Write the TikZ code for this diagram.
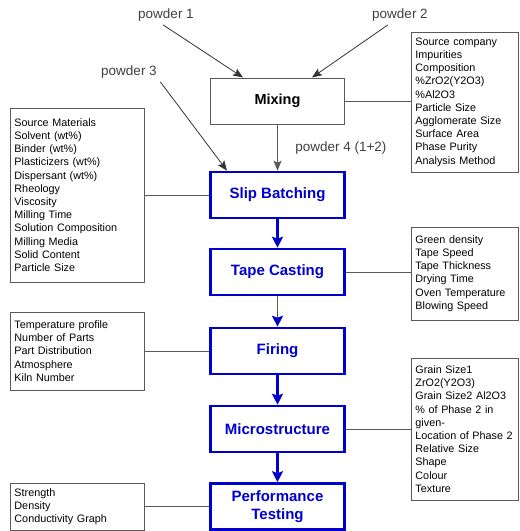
\documentclass[tikz,border=0pt]{standalone}
\usepackage{fontspec}
\setmainfont{Liberation Sans}
\usetikzlibrary{arrows.meta}
\definecolor{procblue}{RGB}{0,0,204}
\definecolor{linegray}{RGB}{90,90,90}

\begin{document}
\begin{tikzpicture}[x=1pt,y=-1pt,
  proc/.style={draw=procblue,line width=2.6pt,text=procblue,minimum width=134pt,minimum height=46pt,align=center,font=\fontsize{15}{18}\selectfont\bfseries},
  mixbox/.style={draw=linegray,line width=1pt,minimum width=134pt,minimum height=46pt,font=\fontsize{14.5}{17}\selectfont\bfseries},
  info/.style={draw=linegray,line width=0.9pt,anchor=west,align=left,inner xsep=4pt,inner ysep=0pt,font=\fontsize{10.8}{13.2}\selectfont},
  leftinfo/.style={info,text width=126pt},
  rightinfo/.style={info,text width=99pt},
  powder/.style={text=black!75,font=\fontsize{13.5}{16}\selectfont},
  tip/.style={-{Stealth[length=10pt,width=8pt,inset=2pt]}},
  bluetip/.style={-{Stealth[length=11pt,width=11pt,inset=2pt,color=procblue]}}]
\useasboundingbox (0,0) rectangle (520,531);

% process chain
\node[mixbox] (mix) at (277.5,101) {Mixing};
\node[proc] (slip) at (277.5,195) {Slip Batching};
\node[proc] (tape) at (277.5,272) {Tape Casting};
\node[proc] (fire) at (277.5,351) {Firing};
\node[proc] (micro) at (277.5,429) {Microstructure};
\node[proc] (perf) at (277.5,506.5) {Performance\\Testing};

% powders
\node[powder] (p1) at (166,15) {powder 1};
\node[powder] (p2) at (400,15) {powder 2};
\node[powder] (p3) at (129,72) {powder 3};

% parameter lists
\node[rightinfo,minimum height=140pt] (mixinfo) at (411,102) {Source company\\Impurities\\Composition\\\%ZrO2(Y2O3)\\\%Al2O3\\Particle Size\\Agglomerate Size\\Surface Area\\Phase Purity\\Analysis Method};
\node[leftinfo,minimum height=174pt] (slipinfo) at (10,195) {Source Materials\\Solvent (wt\%)\\Binder (wt\%)\\Plasticizers (wt\%)\\Dispersant (wt\%)\\Rheology\\Viscosity\\Milling Time\\Solution Composition\\Milling Media\\Solid Content\\Particle Size};
\node[rightinfo,minimum height=93pt] (tapeinfo) at (411,273.5) {Green density\\Tape Speed\\Tape Thickness\\Drying Time\\Oven Temperature\\Blowing Speed};
\node[leftinfo,minimum height=78pt] (fireinfo) at (10,351) {Temperature profile\\Number of Parts\\Part Distribution\\Atmosphere\\Kiln Number};
\node[rightinfo,minimum height=142pt] (microinfo) at (411,429) {Grain Size1\\ZrO2(Y2O3)\\Grain Size2 Al2O3\\\% of Phase 2 in\\given-\\Location of Phase 2\\Relative Size\\Shape\\Colour\\Texture};
\node[leftinfo,minimum height=47pt] (perfinfo) at (10,506.5) {Strength\\Density\\Conductivity Graph};

% inputs
\draw[tip,line width=0.8pt,black!80] ([xshift=-3pt]p1.south) -- ([xshift=-34.5pt]mix.north);
\draw[tip,line width=0.8pt,black!80] ([xshift=-12pt]p2.south) -- ([xshift=34.5pt]mix.north);
\draw[tip,line width=0.8pt,black!80] (p3.south east) -- ([xshift=-50.5pt]slip.north);
\draw[tip,line width=1pt,linegray] (mix) -- node[right=14pt,powder] {powder 4 (1+2)} (slip);

% flow
\path[bluetip,line width=2.6pt,procblue]
(slip) edge (tape)
(fire) edge (micro)
(micro) edge (perf);
\draw[bluetip,line width=1.2pt,linegray] (tape) -- (fire);

% links to parameter lists
\draw[line width=0.9pt,linegray] (mix.east) -- (mix.east -| mixinfo.west);
\draw[line width=0.9pt,linegray] (slip.west) -- (slip.west -| slipinfo.east);
\draw[line width=0.9pt,linegray] (tape.east) -- (tape.east -| tapeinfo.west);
\draw[line width=0.9pt,linegray] (fire.west) -- (fire.west -| fireinfo.east);
\draw[line width=0.9pt,linegray] (micro.east) -- (micro.east -| microinfo.west);
\draw[line width=0.9pt,linegray] (perf.west) -- (perf.west -| perfinfo.east);
\end{tikzpicture}
\end{document}
